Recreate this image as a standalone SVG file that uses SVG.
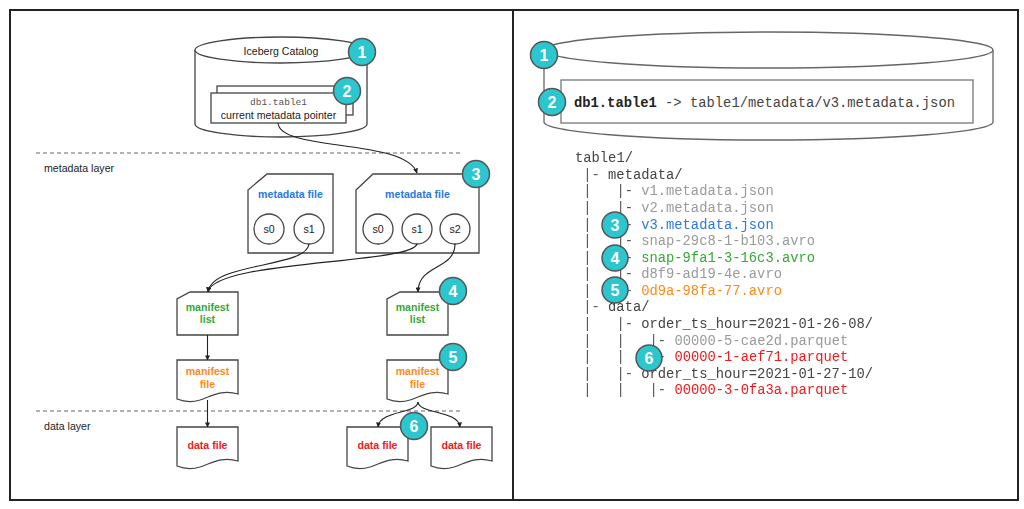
<svg xmlns="http://www.w3.org/2000/svg" width="1024" height="509" viewBox="0 0 1024 509">
<defs>
<marker id="arr" viewBox="0 0 6 6" refX="5.5" refY="3" markerWidth="5" markerHeight="5" markerUnits="userSpaceOnUse" orient="auto">
<path d="M0,0 L6,3 L0,6 z" fill="#222"/>
</marker>
<filter id="flat" x="0" y="0" width="1" height="1" filterUnits="objectBoundingBox"><feOffset dx="0" dy="0"/></filter>
</defs>
<style>
.sh{fill:#fff;stroke:#444;stroke-width:1.3}
.cyl{fill:#fff;stroke:#666;stroke-width:1.3}
.sans{font-family:"Liberation Sans",Arial,sans-serif;font-size:10.6px;fill:#222}
.b{font-weight:bold}
.c{text-anchor:middle}
.blue{fill:#2b78e4}
.green{fill:#35a835}
.orange{fill:#ff8a1c}
.red{fill:#ee1c1c}
.gray{fill:#9a9a9a}
.mono{font-family:"Liberation Mono","Courier New",monospace;font-size:13.8px;fill:#444}
.dk{fill:#444}
.pipe{fill:#555}
.dash{stroke:#666;stroke-width:1;stroke-dasharray:4 3;fill:none}
.con{fill:none;stroke:#222;stroke-width:1.1;marker-end:url(#arr)}
.badge circle{fill:#2bc6ce;stroke:#555;stroke-width:1.5}
.badge text{font-family:"Liberation Sans",Arial,sans-serif;font-weight:bold;font-size:16px;fill:#fff;text-anchor:middle}
</style>
<rect x="0" y="0" width="1024" height="509" fill="#fff"/>
<rect x="10" y="10" width="1008" height="490" fill="none" stroke="#222" stroke-width="2"/>
<line x1="513" y1="10" x2="513" y2="500" stroke="#222" stroke-width="2"/>

<!-- layer separators -->
<g id="layers">
<line class="dash" x1="36" y1="153" x2="462" y2="153"/>
<text class="sans" x="44" y="172">metadata layer</text>
<line class="dash" x1="36" y1="411" x2="463" y2="411"/>
<text class="sans" x="44" y="430">data layer</text>
</g>

<!-- Left: catalog -->
<g id="catalog">
<path class="cyl" style="stroke:#444" d="M195,50 V124 A86,13 0 0 0 367,124 V50"/>
<ellipse class="cyl" style="stroke:#444" cx="281" cy="50" rx="86" ry="13"/>
<text class="sans c" x="281" y="55">Iceberg Catalog</text>
</g>
<g id="pointer">
<rect class="sh" x="217" y="86" width="136" height="29"/>
<rect class="sh" x="211" y="93" width="135" height="30"/>
<text x="278.5" y="105" text-anchor="middle" style="font-family:'Liberation Mono',monospace;font-size:9.5px;fill:#555">db1.table1</text>
<text class="sans c" x="278.5" y="118.5">current metadata pointer</text>
</g>

<!-- metadata files -->
<g id="metadata-file-old">
<path class="sh" d="M267,174 H333 V253 H248 V190 Z"/>
<text class="sans b c blue" x="290.5" y="198">metadata file</text>
<circle class="sh" cx="269" cy="229" r="15"/>
<text class="sans c" x="269" y="233">s0</text>
<circle class="sh" cx="309" cy="229" r="15"/>
<text class="sans c" x="309" y="233">s1</text>
</g>
<g id="metadata-file-current">
<path class="sh" d="M373,174 H479 V253 H356 V190 Z"/>
<text class="sans b c blue" x="417.5" y="198">metadata file</text>
<circle class="sh" cx="378" cy="229" r="15"/>
<text class="sans c" x="378" y="233">s0</text>
<circle class="sh" cx="417" cy="229" r="15"/>
<text class="sans c" x="417" y="233">s1</text>
<circle class="sh" cx="455" cy="229" r="15"/>
<text class="sans c" x="455" y="233">s2</text>
</g>

<!-- manifest lists -->
<g id="manifest-list-left">
<path class="sh" d="M190,292 H238 V335 H177 V299 Z"/>
<text class="sans b c green" x="207.5" y="311">manifest</text>
<text class="sans b c green" x="207.5" y="323">list</text>
</g>
<g id="manifest-list-right">
<path class="sh" d="M400,292 H448 V335 H387 V299 Z"/>
<text class="sans b c green" x="417.5" y="311">manifest</text>
<text class="sans b c green" x="417.5" y="323">list</text>
</g>

<!-- manifest files -->
<g id="manifest-file-left">
<path class="sh" d="M177,360 H238 V394 C222,389 212,396 200,400 C190,403 182,401 177,399 Z"/>
<text class="sans b c orange" x="207.5" y="375">manifest</text>
<text class="sans b c orange" x="207.5" y="388">file</text>
</g>
<g id="manifest-file-right">
<path class="sh" d="M387,360 H448 V394 C432,389 422,396 410,400 C400,403 392,401 387,399 Z"/>
<text class="sans b c orange" x="417.5" y="375">manifest</text>
<text class="sans b c orange" x="417.5" y="388">file</text>
</g>

<!-- data files -->
<g id="data-file-left">
<path class="sh" d="M177,427 H238 V461 C222,456 212,463 200,467 C190,470 182,468 177,466 Z"/>
<text class="sans b c red" x="207.5" y="449">data file</text>
</g>
<g id="data-file-right-1">
<path class="sh" d="M347,427 H408 V461 C392,456 382,463 370,467 C360,470 352,468 347,466 Z"/>
<text class="sans b c red" x="377.5" y="449">data file</text>
</g>
<g id="data-file-right-2">
<path class="sh" d="M431,427 H492 V461 C476,456 466,463 454,467 C444,470 436,468 431,466 Z"/>
<text class="sans b c red" x="461.5" y="449">data file</text>
</g>

<!-- connectors -->
<g id="connectors">
<path class="con" d="M278,123 C280,152 405,138 417,173"/>
<path class="con" d="M309,244 C307,268 212,262 208,292"/>
<path class="con" d="M417,244 C412,264 214,260 208,292"/>
<path class="con" d="M455,244 C455,270 418,264 418,292"/>
<path class="con" d="M207.5,335 V360"/>
<path class="con" d="M207.5,400 V427"/>
<path class="con" d="M418,402 C417,414 380,410 378,427"/>
<path class="con" d="M418,402 C419,414 458,410 460,427"/>
</g>

<!-- Right: catalog cylinder -->
<g id="catalog-right">
<path class="cyl" d="M544,50 V122 A224.5,18 0 0 0 993,122 V50"/>
<ellipse class="cyl" cx="768.5" cy="50" rx="224.5" ry="18"/>
<rect x="561" y="80" width="412" height="43" fill="#fff" stroke="#777" stroke-width="1.3"/>
<text class="mono" x="574" y="107"><tspan style="font-weight:bold;fill:#222">db1.table1</tspan><tspan x="665.1" class="dk">-&gt;</tspan><tspan x="690" class="dk">table1/metadata/v3.metadata.json</tspan></text>
</g>

<!-- Right: file tree -->
<g id="tree" class="mono" filter="url(#flat)">
<rect x="570" y="145" width="310" height="255" fill="#fff"/>
<text y="162.3"><tspan x="575" class="dk">table1/</tspan></text>
<text y="178.9"><tspan x="583.3" class="pipe">|-</tspan><tspan x="608.1" class="dk">metadata/</tspan></text>
<text y="195.4"><tspan x="583.3" class="pipe">|</tspan><tspan x="616.4" class="pipe">|-</tspan><tspan x="641.2" class="gray">v1.metadata.json</tspan></text>
<text y="212"><tspan x="583.3" class="pipe">|</tspan><tspan x="616.4" class="pipe">|-</tspan><tspan x="641.2" class="gray">v2.metadata.json</tspan></text>
<text y="228.5"><tspan x="583.3" class="pipe">|</tspan><tspan x="616.4" class="pipe">|-</tspan><tspan x="641.2" class="blue">v3.metadata.json</tspan></text>
<text y="245.1"><tspan x="583.3" class="pipe">|</tspan><tspan x="616.4" class="pipe">|-</tspan><tspan x="641.2" class="gray">snap-29c8-1-b103.avro</tspan></text>
<text y="261.7"><tspan x="583.3" class="pipe">|</tspan><tspan x="616.4" class="pipe">|-</tspan><tspan x="641.2" class="green">snap-9fa1-3-16c3.avro</tspan></text>
<text y="278.2"><tspan x="583.3" class="pipe">|</tspan><tspan x="616.4" class="pipe">|-</tspan><tspan x="641.2" class="gray">d8f9-ad19-4e.avro</tspan></text>
<text y="294.8"><tspan x="583.3" class="pipe">|</tspan><tspan x="616.4" class="pipe">|-</tspan><tspan x="641.2" class="orange">0d9a-98fa-77.avro</tspan></text>
<text y="311.3"><tspan x="583.3" class="pipe">|-</tspan><tspan x="608.1" class="dk">data/</tspan></text>
<text y="327.9"><tspan x="583.3" class="pipe">|</tspan><tspan x="616.4" class="pipe">|-</tspan><tspan x="641.2" class="dk">order_ts_hour=2021-01-26-08/</tspan></text>
<text y="344.5"><tspan x="583.3" class="pipe">|</tspan><tspan x="616.4" class="pipe">|</tspan><tspan x="649.5" class="pipe">|-</tspan><tspan x="674.4" class="gray">00000-5-cae2d.parquet</tspan></text>
<text y="361"><tspan x="583.3" class="pipe">|</tspan><tspan x="616.4" class="pipe">|</tspan><tspan x="649.5" class="pipe">|-</tspan><tspan x="674.4" class="red">00000-1-aef71.parquet</tspan></text>
<text y="377.6"><tspan x="583.3" class="pipe">|</tspan><tspan x="616.4" class="pipe">|-</tspan><tspan x="641.2" class="dk">order_ts_hour=2021-01-27-10/</tspan></text>
<text y="394.1"><tspan x="583.3" class="pipe">|</tspan><tspan x="616.4" class="pipe">|</tspan><tspan x="649.5" class="pipe">|-</tspan><tspan x="674.4" class="red">00000-3-0fa3a.parquet</tspan></text>
</g>

<!-- badges -->
<g id="badge-1-left" class="badge"><circle cx="362" cy="52" r="13.5"/><text x="362" y="58">1</text></g>
<g id="badge-2-left" class="badge"><circle cx="347" cy="91" r="13.5"/><text x="347" y="97">2</text></g>
<g id="badge-3-left" class="badge"><circle cx="476" cy="174" r="13.5"/><text x="476" y="180">3</text></g>
<g id="badge-4-left" class="badge"><circle cx="453" cy="291" r="13.5"/><text x="453" y="297">4</text></g>
<g id="badge-5-left" class="badge"><circle cx="453" cy="357" r="13.5"/><text x="453" y="363">5</text></g>
<g id="badge-6-left" class="badge"><circle cx="414" cy="426" r="13.5"/><text x="414" y="432">6</text></g>
<g id="badge-1-right" class="badge"><circle cx="544" cy="55" r="13.5"/><text x="544" y="61">1</text></g>
<g id="badge-2-right" class="badge"><circle cx="552" cy="102" r="13.5"/><text x="552" y="108">2</text></g>
<g id="badge-3-right" class="badge"><circle cx="615" cy="225" r="13"/><text x="615" y="231">3</text></g>
<g id="badge-4-right" class="badge"><circle cx="615" cy="258" r="13"/><text x="615" y="264">4</text></g>
<g id="badge-5-right" class="badge"><circle cx="615" cy="290" r="13"/><text x="615" y="296">5</text></g>
<g id="badge-6-right" class="badge"><circle cx="649" cy="358" r="13"/><text x="649" y="364">6</text></g>
</svg>
